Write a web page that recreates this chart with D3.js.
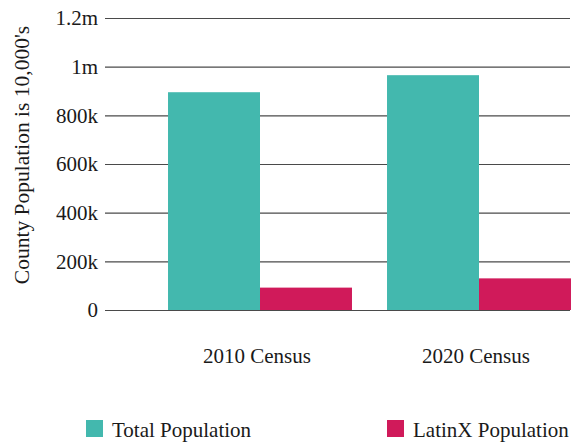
<!DOCTYPE html>
<html>
<head>
<meta charset="utf-8">
<script src="https://cdn.jsdelivr.net/npm/d3@7"></script>
<style>
  body { margin: 0; background: #fff; }
  svg text { font-family: "Liberation Serif", "DejaVu Serif", serif; fill: #1a1a1a; }
</style>
</head>
<body>
<div id="chart"></div>
<script>
// data
var categories = ["2010 Census", "2020 Census"];
var seriesNames = ["Total Population", "LatinX Population"];
var totalPop = [895000, 965000];
var latinxPop = [92000, 130000];
var tickValues = [0, 200000, 400000, 600000, 800000, 1000000, 1200000];
var tickLabels = ["0", "200k", "400k", "600k", "800k", "1m", "1.2m"];
var colors = ["#43b8ae", "#d01a5a"];

var width = 576, height = 442;
var gridLeft = 105, gridRight = 570;
var serif = "'Liberation Serif', 'DejaVu Serif', serif";

var rows = categories.map(function(c, i) {
  return { cat: c, values: [totalPop[i], latinxPop[i]] };
});

var svg = d3.select("div#chart")
  .append("svg")
  .attr("width", width)
  .attr("height", height)
  .attr("font-family", serif);

var yScale = d3.scaleLinear()
  .domain([0, 1200000])
  .range([310, 18]);

var x0 = d3.scaleBand()
  .domain(categories)
  .range([150.5, 588.5])
  .paddingInner(0.16)
  .paddingOuter(0.08);

var x1 = d3.scaleBand()
  .domain(seriesNames)
  .range([0, x0.bandwidth()]);

var color = d3.scaleOrdinal().domain(seriesNames).range(colors);

// gridlines + tick labels
var yAxis = d3.axisLeft(yScale)
  .tickValues(tickValues)
  .tickFormat(function(d, i) { return tickLabels[i]; })
  .tickSize(gridRight - gridLeft)
  .tickPadding(7);

var ax = svg.append("g")
  .attr("class", "axis y")
  .attr("transform", "translate(" + gridRight + ",0)")
  .call(yAxis)
  .attr("font-family", serif)
  .attr("font-size", 21);
ax.select(".domain").remove();
ax.selectAll("line").attr("stroke", "#4a4a4a").attr("stroke-width", 1.2);
ax.selectAll("text").attr("fill", "#1a1a1a");

// bars
var groups = svg.selectAll(".group")
  .data(rows)
  .enter()
  .append("g")
  .attr("class", "group")
  .attr("transform", function(d) { return "translate(" + x0(d.cat) + ",0)"; });

groups.selectAll("rect")
  .data(function(d) { return d.values.map(function(v, i) { return { key: seriesNames[i], value: v }; }); })
  .enter()
  .append("rect")
  .attr("x", function(d) { return x1(d.key); })
  .attr("y", function(d) { return yScale(d.value); })
  .attr("width", x1.bandwidth())
  .attr("height", function(d) { return yScale(0) - yScale(d.value); })
  .attr("fill", function(d) { return color(d.key); });

// category labels
svg.selectAll(".cat-label")
  .data(categories)
  .enter()
  .append("text")
  .attr("class", "cat-label")
  .attr("x", function(d) { return x0(d) + x0.bandwidth() / 2 - 3; })
  .attr("y", 363)
  .attr("text-anchor", "middle")
  .attr("font-size", 21)
  .text(function(d) { return d; });

// y title
svg.append("text")
  .attr("transform", "translate(29,155) rotate(-90)")
  .attr("text-anchor", "middle")
  .attr("font-size", 21.5)
  .text("County Population is 10,000's");

// legend
var legendX = [86, 387];
var legend = svg.selectAll(".legend")
  .data(seriesNames)
  .enter()
  .append("g")
  .attr("class", "legend")
  .attr("transform", function(d, i) { return "translate(" + legendX[i] + ",420)"; });

legend.append("rect")
  .attr("width", 17)
  .attr("height", 17)
  .attr("fill", function(d) { return color(d); });

legend.append("text")
  .attr("x", 26)
  .attr("y", 17)
  .attr("font-size", 21)
  .text(function(d) { return d; });
</script>
</body>
</html>
